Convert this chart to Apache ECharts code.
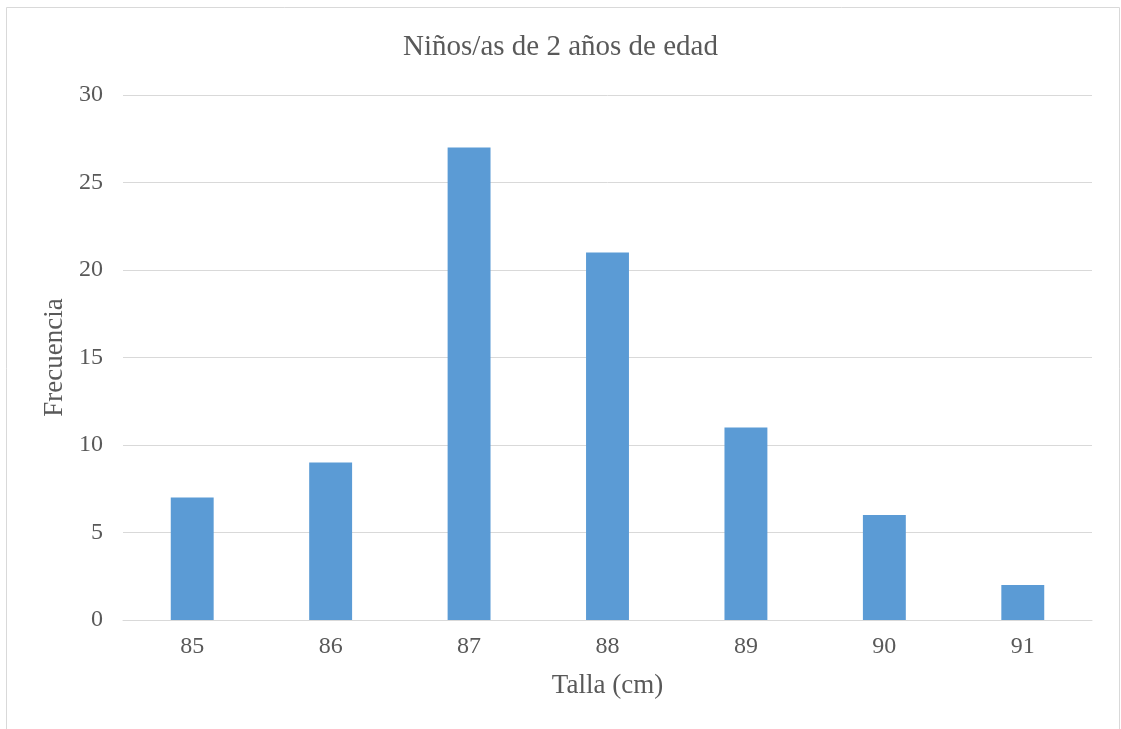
<!DOCTYPE html>
<html>
<head>
<meta charset="utf-8">
<script src="https://cdn.jsdelivr.net/npm/echarts@6/dist/echarts.min.js"></script>
<style>
  html, body { margin: 0; padding: 0; background: #fff; }
  #chart { width: 1121px; height: 729px; }
</style>
</head>
<body>
<div id="chart"></div>
<script>
// Height distribution of two-year-old children
const tallas = ['85', '86', '87', '88', '89', '90', '91'];
const frecuencias = [7, 9, 27, 21, 11, 6, 2];
const yTicks = { min: 0, max: 30, interval: 5 };

const serif = '"Liberation Serif", "DejaVu Serif", serif';
const textColor = '#595959';

const chart = echarts.init(document.getElementById('chart'));
chart.setOption({
  animation: false,
  backgroundColor: '#fff',
  graphic: [{
    type: 'rect',
    silent: true,
    shape: { x: 6.5, y: 7.5, width: 1113, height: 800 },
    style: { fill: 'none', stroke: '#d9d9d9', lineWidth: 1 }
  }],
  title: {
    text: 'Niños/as de 2 años de edad',
    left: 'center',
    top: 28,
    textStyle: { fontFamily: serif, fontSize: 29, fontWeight: 'normal', color: textColor }
  },
  grid: { left: 123, right: 29, top: 95, bottom: 109 },
  xAxis: {
    type: 'category',
    data: tallas,
    name: 'Talla (cm)',
    nameLocation: 'middle',
    nameGap: 52,
    nameTextStyle: { fontFamily: serif, fontSize: 27, color: textColor },
    axisLine: { lineStyle: { color: '#d9d9d9', width: 1 } },
    axisTick: { show: false },
    axisLabel: { fontFamily: serif, fontSize: 24, color: textColor, margin: 15 }
  },
  yAxis: {
    type: 'value',
    min: yTicks.min,
    max: yTicks.max,
    interval: yTicks.interval,
    name: 'Frecuencia',
    nameLocation: 'middle',
    nameGap: 53,
    nameTextStyle: { fontFamily: serif, fontSize: 27, color: textColor },
    axisLine: { show: false },
    axisTick: { show: false },
    splitLine: { lineStyle: { color: '#d9d9d9', width: 1 } },
    axisLabel: { fontFamily: serif, fontSize: 24, color: textColor, margin: 20 }
  },
  series: [{
    type: 'bar',
    data: frecuencias,
    barWidth: '31%',
    itemStyle: { color: '#5b9bd5' }
  }]
});
</script>
</body>
</html>
